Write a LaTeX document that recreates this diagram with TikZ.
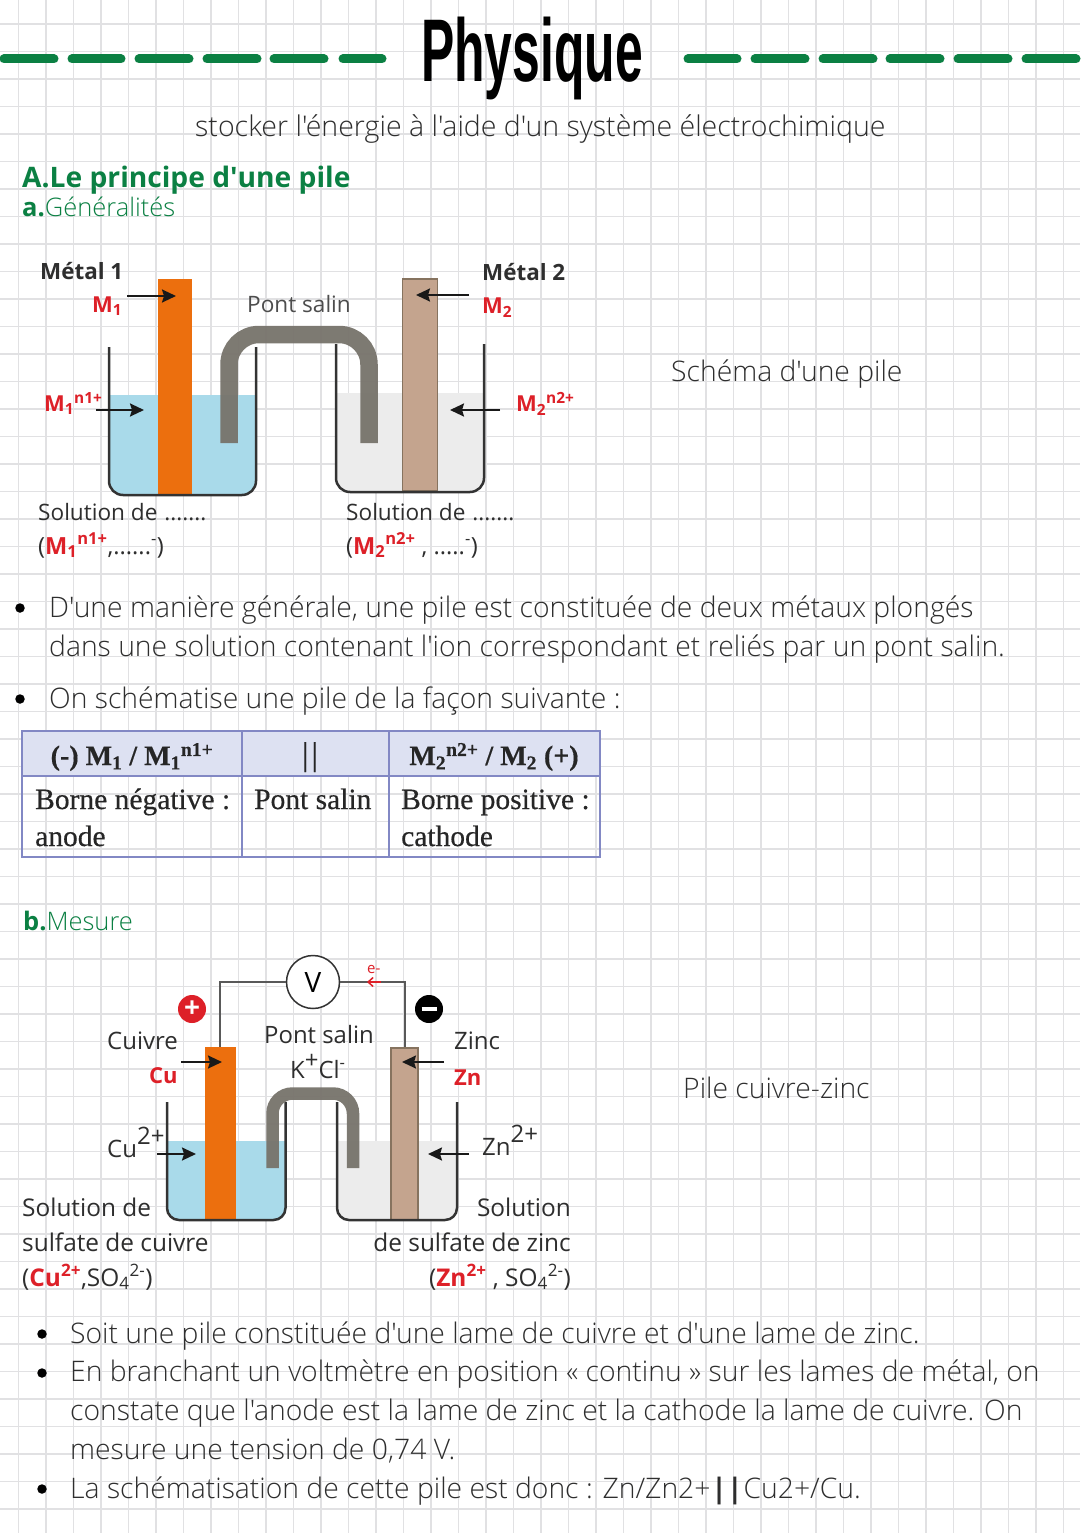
\documentclass[tikz,border=0pt]{standalone}
\usepackage{fontspec}
\setmainfont{Open Sans}
\newfontfamily\lightfont{Open Sans Light}
\newfontfamily\serfont[FakeBold=0.4]{Liberation Serif}
\newfontfamily\titlefont[FakeStretch=0.56]{Liberation Sans Bold}
\usetikzlibrary{arrows.meta,calc,positioning}
\definecolor{leaf}{HTML}{0B8043}
\definecolor{redion}{HTML}{DD2028}
\definecolor{ink}{HTML}{2E2E2E}
\definecolor{gridc}{HTML}{E1E1E3}
\definecolor{copperc}{HTML}{EC6F0E}
\definecolor{zincc}{HTML}{C4A48E}
\definecolor{zincl}{HTML}{86735F}
\definecolor{bluesol}{HTML}{A9DAEA}
\definecolor{graysol}{HTML}{ECECEC}
\definecolor{bridgec}{HTML}{77736B}
\definecolor{tabline}{HTML}{8288C4}
\definecolor{tabhead}{HTML}{DDE1F2}
\newcommand{\bodyfont}{\lightfont\fontsize{28.3}{34}\selectfont}
\newcommand{\labfont}{\fontsize{22.6}{25}\selectfont}
\newcommand{\labbfont}{\fontsize{24.4}{27}\selectfont}
\newcommand{\ionfont}{\bfseries\fontsize{22}{25}\selectfont}
\newcommand{\tabfont}{\serfont\fontsize{29.5}{34}\selectfont}
\tikzset{
  txt/.style={anchor=base west,inner sep=0pt,text=ink},
  body/.style={txt,font=\bodyfont},
  lab/.style={txt,font=\labfont},
  labb/.style={txt,font=\labbfont},
  ion/.style={txt,font=\ionfont,text=redion},
  tabtxt/.style={txt,font=\tabfont,text=black!85},
  bullet/.style={circle,fill=black,minimum size=9.5pt,inner sep=0pt},
  rod/.style={draw=none,rectangle,inner sep=0pt},
  tabcell/.style={draw=tabline,line width=2pt,rectangle,inner sep=0pt},
  wall/.style={draw=black!80,line width=2.5pt},
  bridge/.style={draw=bridgec,opacity=0.95},
  wire/.style={draw=black!65,line width=2pt},
  pusharrow/.style={draw=black!90,line width=2.2pt,-{Stealth[length=14pt,width=13pt,inset=2pt]}},
  dashbar/.style={draw=leaf,line width=9pt,line cap=round},
  badge/.style={circle,minimum size=28pt,inner sep=0pt,text=white}
}

\begin{document}
\begin{tikzpicture}[x=1pt,y=-1pt]
  \useasboundingbox (0,0) rectangle (1080,1533);
  \fill[white] (0,0) rectangle (1080,1533);
  \foreach \i in {0,...,38}
    \draw[gridc,line width=1.5pt] ({18.7+27.5*\i},0) -- ({18.7+27.5*\i},1533);
  \foreach \j in {0,...,54}
    \draw[gridc,line width=1.5pt] (0,{24.2+27.5*\j}) -- (1080,{24.2+27.5*\j});

  \foreach \a/\b in {4/54,72/121,139/189,207/257,274/324,343/382,688/737,755/805,823/873,890/940,958/1008,1026/1076}
    \draw[dashbar] (\a,59) -- (\b,59);

  \node[txt,font=\titlefont\fontsize{89}{90}\selectfont,text=black] (title) at (421,82) {Physique};
  \node[body,font=\lightfont\fontsize{28.5}{34}\selectfont] (subtitle) at (195,137) {stocker l'énergie à l'aide d'un système électrochimique};
  \node[txt,font=\bfseries\fontsize{28.2}{32}\selectfont,text=leaf] (parta) at (22,188) {A.Le principe d\textquotesingle une pile};
  \node[txt,font=\fontsize{25.5}{28}\selectfont,text=leaf] (parta1) at (22,216) {\textbf{a.}{\lightfont Généralités}};

  \fill[bluesol] (109,395) [rounded corners=14pt] -- (109,495) -- (256,495) [sharp corners] -- (256,395) -- cycle;
  \fill[graysol] (336,393) [rounded corners=14pt] -- (336,492) -- (484,492) [sharp corners] -- (484,393) -- cycle;
  \node[rod,fill=copperc,minimum width=34.5pt,minimum height=216pt] (metal1) at (174.75,387) {};
  \node[rod,fill=zincc,draw=zincl,line width=1.5pt,minimum width=35pt,minimum height=212pt] (metal2) at (420,385) {};
  \draw[wall,rounded corners=14pt] (109,347) -- (109,495) -- (256,495) -- (256,347);
  \draw[wall,rounded corners=14pt] (336,344) -- (336,492) -- (484,492) -- (484,344);
  \draw[bridge,line width=17.5pt,rounded corners=30pt] (229,443) -- (229,334.5) -- (369,334.5) -- (369,443);

  \node[lab,font=\bfseries\fontsize{22.4}{25}\selectfont] (metalone) at (40,279) {Métal 1};
  \node[lab,font=\bfseries\fontsize{22.4}{25}\selectfont] (metaltwo) at (482,280) {Métal 2};
  \node[ion] (m1) at (92,312) {M\textsubscript{1}};
  \node[ion] (m2) at (482,313) {M\textsubscript{2}};
  \node[lab,text=ink!85] (pont) at (247,312) {Pont salin};
  \node[ion] (m1ion) at (44,411) {M\textsubscript{1}\textsuperscript{n1+}};
  \node[ion] (m2ion) at (516,411) {M\textsubscript{2}\textsuperscript{n2+}};
  \node[lab] (sol1) at (38,520) {Solution de \hspace{1pt}.......};
  \node[lab] (sol2) at (346,520) {Solution de \hspace{1pt}.......};
  \node[lab,font=\fontsize{23.6}{27}\selectfont] (eq1) at (38,554) {({\color{redion}\bfseries M\textsubscript{1}\textsuperscript{n1+}},......\textsuperscript{-})};
  \node[lab,font=\fontsize{23.6}{27}\selectfont] (eq2) at (346,554) {({\color{redion}\bfseries M\textsubscript{2}\textsuperscript{n2+}} , .....\textsuperscript{-})};

  \coordinate (m1a) at (127,296);
  \coordinate (m1b) at (176,296);
  \coordinate (m2a) at (469,295);
  \coordinate (m2b) at (416,295);
  \coordinate (m1ia) at (96,410);
  \coordinate (m1ib) at (144,410);
  \coordinate (m2ia) at (500,410);
  \coordinate (m2ib) at (450,410);
  \draw[pusharrow] (m1a) -- (m1b);
  \draw[pusharrow] (m2a) -- (m2b);
  \draw[pusharrow] (m1ia) -- (m1ib);
  \draw[pusharrow] (m2ia) -- (m2ib);

  \node[body] (schema) at (671,381) {Schéma d'une pile};

  \node[bullet] (b1) at (20,608) {};
  \node[body] (l1) at (49,617) {D'une manière générale, une pile est constituée de deux métaux plongés};
  \node[body] (l2) at (49,656) {dans une solution contenant l'ion correspondant et reliés par un pont salin.};
  \node[bullet] (b2) at (20,699) {};
  \node[body] (l3) at (49,708) {On schématise une pile de la façon suivante :};

  \node[tabcell,fill=tabhead,minimum width=220pt,minimum height=45pt] (h1) at (132,753.5) {};
  \node[tabcell,fill=tabhead,minimum width=147pt,minimum height=45pt] (h2) at (315.5,753.5) {};
  \node[tabcell,fill=tabhead,minimum width=211pt,minimum height=45pt] (h3) at (494.5,753.5) {};
  \node[tabcell,minimum width=220pt,minimum height=81pt] (c1) at (132,816.5) {};
  \node[tabcell,minimum width=147pt,minimum height=81pt] (c2) at (315.5,816.5) {};
  \node[tabcell,minimum width=211pt,minimum height=81pt] (c3) at (494.5,816.5) {};
  \node[tabtxt,font=\serfont\bfseries\fontsize{28}{32}\selectfont,anchor=base] (t1) at (132,765) {(-) M\textsubscript{1} / M\textsubscript{1}\textsuperscript{n1+}};
  \node[tabtxt,font=\serfont\fontsize{33}{34}\selectfont,anchor=base] (t2) at (310,765) {|\hspace{3pt}|};
  \node[tabtxt,font=\serfont\bfseries\fontsize{28}{32}\selectfont,anchor=base] (t3) at (494,765) {M\textsubscript{2}\textsuperscript{n2+} / M\textsubscript{2} (+)};
  \node[tabtxt] (t4) at (35,809) {Borne négative :};
  \node[tabtxt] (t5) at (35,846) {anode};
  \node[tabtxt] (t6) at (254,809) {Pont salin};
  \node[tabtxt] (t7) at (401,809) {Borne positive :};
  \node[tabtxt] (t8) at (401,846) {cathode};

  \node[txt,font=\fontsize{25.5}{28}\selectfont,text=leaf] (partb) at (23,930) {\textbf{b.}{\lightfont Mesure}};

  \fill[bluesol] (167,1141) [rounded corners=12pt] -- (167,1220) -- (285.5,1220) [sharp corners] -- (285.5,1141) -- cycle;
  \fill[graysol] (337,1141) [rounded corners=12pt] -- (337,1220) -- (457,1220) [sharp corners] -- (457,1141) -- cycle;
  \node[rod,fill=copperc,minimum width=30.5pt,minimum height=173pt] (cu) at (220.25,1133.5) {};
  \node[rod,fill=zincc,draw=zincl,line width=1.5pt,minimum width=27pt,minimum height=172pt] (zn) at (404.5,1134) {};
  \draw[wall,rounded corners=12pt] (167,1102) -- (167,1220) -- (285.5,1220) -- (285.5,1102);
  \draw[wall,rounded corners=12pt] (337,1102) -- (337,1220) -- (457,1220) -- (457,1102);
  \draw[bridge,line width=12.5pt,rounded corners=20pt] (272.5,1168) -- (272.5,1093.5) -- (353,1093.5) -- (353,1168);

  \node[circle,draw=black!80,fill=white,line width=1.5pt,minimum size=53pt,inner sep=0pt,font=\fontsize{28}{30}\selectfont] (volt) at (313,982) {V};
  \draw[wire] (volt.west) -| (cu.north);
  \draw[wire] (volt.east) -| (zn.north);
  \coordinate (ea) at (381,982);
  \coordinate (eb) at (367,982);
  \draw[redion,line width=1.5pt,-{Straight Barb[length=5pt,width=9pt]}] (ea) -- (eb);
  \node[txt,font=\fontsize{15}{16}\selectfont,text=redion] (elec) at (367,973) {e-};

  \node[badge,fill=redion,font=\bfseries\fontsize{28}{28}\selectfont] (plus) at (192,1009) {+};
  \node[badge,fill=black] (minus) at (429,1009) {\rule[0pt]{15pt}{4pt}};

  \node[lab,font=\fontsize{24}{26}\selectfont] (cuivre) at (107,1049) {Cuivre};
  \node[ion] (culab) at (149,1083) {Cu};
  \node[lab,font=\fontsize{23.9}{26}\selectfont] (pontb) at (264,1043) {Pont salin};
  \node[lab,font=\fontsize{23.9}{26}\selectfont] (kcl) at (290,1078) {K\raisebox{10pt}{+}Cl\textsuperscript{-}};
  \node[lab,font=\fontsize{24}{26}\selectfont] (zinc) at (454,1049) {Zinc};
  \node[ion] (znlab) at (454,1085) {Zn};
  \node[lab,font=\fontsize{24}{26}\selectfont] (cuion) at (107,1157) {Cu\raisebox{13pt}{2+}};
  \node[lab,font=\fontsize{24}{26}\selectfont] (znion) at (482,1155) {Zn\raisebox{13pt}{2+}};
  \node[labb] (solc1) at (22,1216) {Solution de};
  \node[labb] (solc2) at (22,1251) {sulfate de cuivre};
  \node[labb] (solc3) at (22,1286) {({\color{redion}\bfseries Cu\textsuperscript{2+}},SO\textsubscript{4}\textsuperscript{2-})};
  \node[labb,anchor=base east] (solz1) at (571,1216) {Solution};
  \node[labb,anchor=base east] (solz2) at (571,1251) {de sulfate de zinc};
  \node[labb,anchor=base east] (solz3) at (571,1286) {({\color{redion}\bfseries Zn\textsuperscript{2+}} , SO\textsubscript{4}\textsuperscript{2-})};

  \coordinate (cua) at (181,1062);
  \coordinate (cub) at (222,1062);
  \coordinate (zna) at (444,1062);
  \coordinate (znb) at (402,1062);
  \coordinate (cuia) at (157,1154);
  \coordinate (cuib) at (196,1154);
  \coordinate (znia) at (469,1154);
  \coordinate (znib) at (428,1154);
  \draw[pusharrow] (cua) -- (cub);
  \draw[pusharrow] (zna) -- (znb);
  \draw[pusharrow] (cuia) -- (cuib);
  \draw[pusharrow] (znia) -- (znib);

  \node[body] (pilecz) at (683,1098) {Pile cuivre-zinc};

  \node[bullet] (b3) at (42,1334) {};
  \node[body] (p1) at (70,1343) {Soit une pile constituée d'une lame de cuivre et d'une lame de zinc.};
  \node[bullet] (b4) at (42,1373) {};
  \node[body] (p2) at (70,1381) {En branchant un voltmètre en position « continu » sur les lames de métal, on};
  \node[body] (p3) at (70,1420) {constate que l'anode est la lame de zinc et la cathode la lame de cuivre. On};
  \node[body] (p4) at (70,1459) {mesure une tension de 0,74 V.};
  \node[bullet] (b5) at (42,1489) {};
  \node[body] (p5) at (70,1498) {La schématisation de cette pile est donc : Zn/Zn2+{\normalfont\bfseries\hspace{1pt}|\hspace{0pt}|\hspace{1pt}}Cu2+/Cu.};
\end{tikzpicture}
\end{document}
